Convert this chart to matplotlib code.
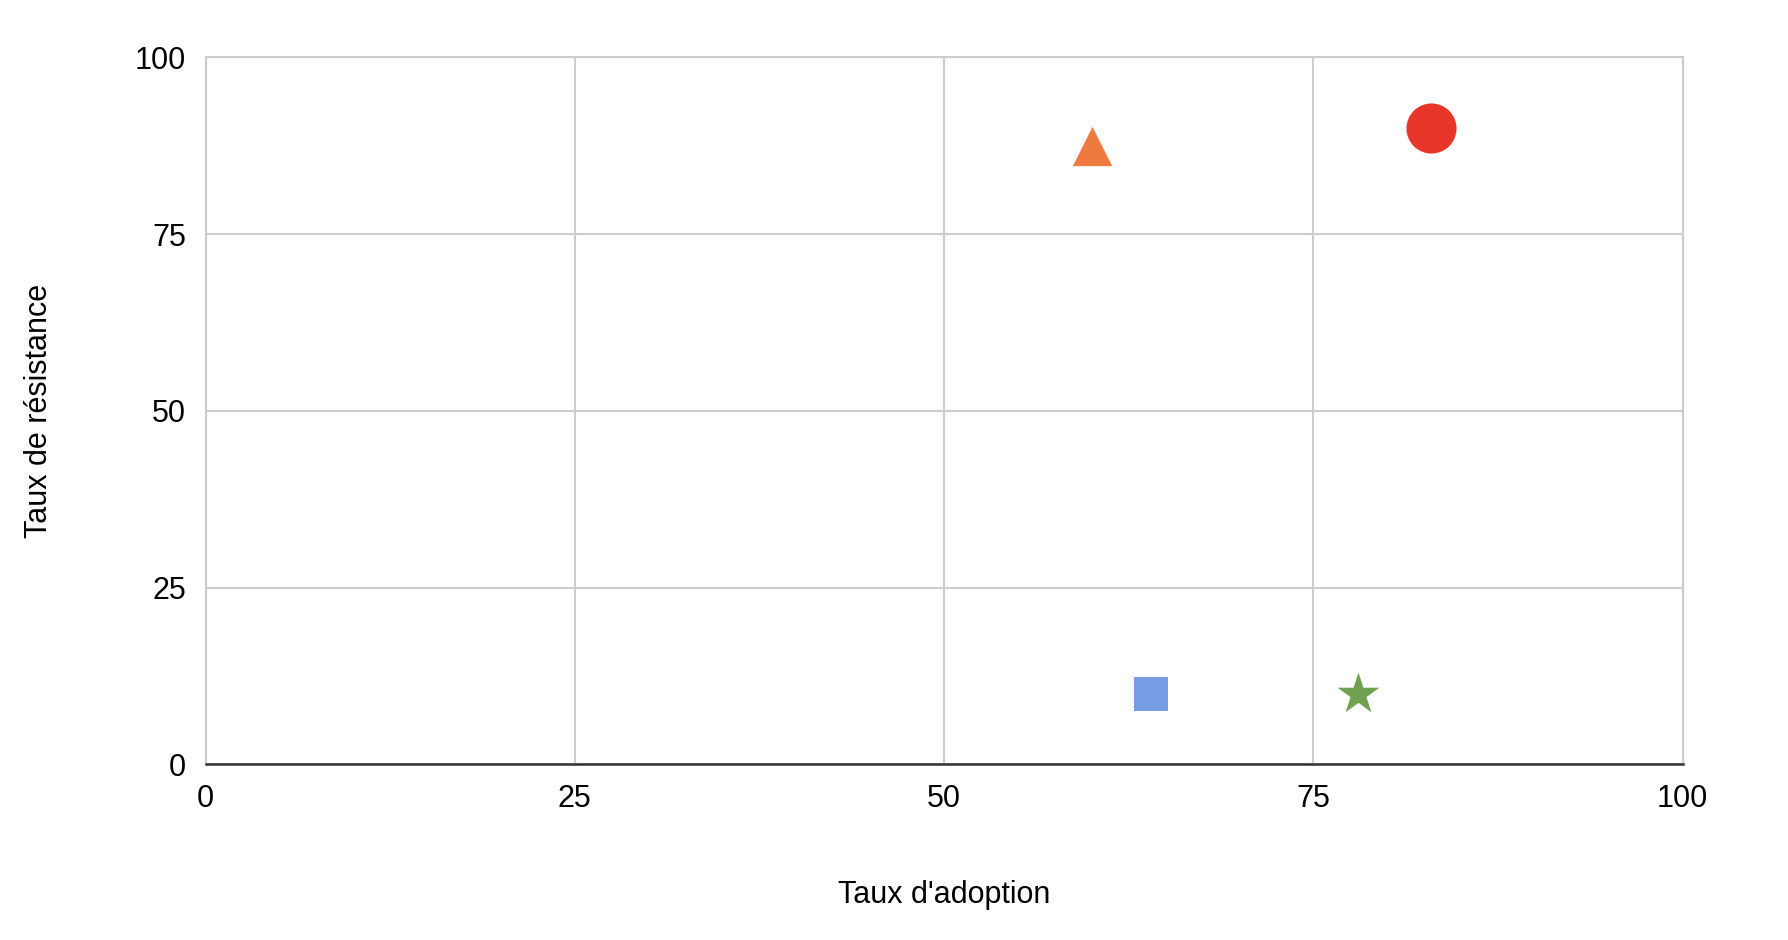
import matplotlib
matplotlib.use("Agg")
import matplotlib.pyplot as plt

plt.rcParams['font.family'] = ['Liberation Sans', 'DejaVu Sans']

names = ["A", "B", "C", "D"]
adoption = [60, 83, 64, 78]
resistance = [87.5, 90, 10, 10]
markers = ["^", "o", "s", "*"]
colors = ["#ee7a3f", "#e8352a", "#779ee5", "#6ea150"]
sizes = [800, 1300, 600, 1000]

fig = plt.figure(figsize=(17.88, 9.4), dpi=100)
ax = fig.add_axes([0.115, 0.187, 0.826, 0.752])
for x, y, m, c, s in zip(adoption, resistance, markers, colors, sizes):
    ax.scatter([x], [y], marker=m, s=s, color=c, zorder=3, linewidths=0)

ax.set_xlim(0, 100)
ax.set_ylim(0, 100)
ticks = [0, 25, 50, 75, 100]
ax.set_xticks(ticks)
ax.set_yticks(ticks)
ax.grid(True, color="#cccccc", linewidth=1.5)
for s in ["top", "right", "left"]:
    ax.spines[s].set_color("#cccccc")
    ax.spines[s].set_linewidth(1.5)
ax.spines["bottom"].set_color("#333333")
ax.spines["bottom"].set_linewidth(1.8)
ax.tick_params(length=0, labelsize=22, pad=14)
ax.set_xlabel("Taux d'adoption", fontsize=22, labelpad=48)
ax.set_ylabel("Taux de résistance", fontsize=22, labelpad=58)
fig.savefig("out.png", dpi=100)
